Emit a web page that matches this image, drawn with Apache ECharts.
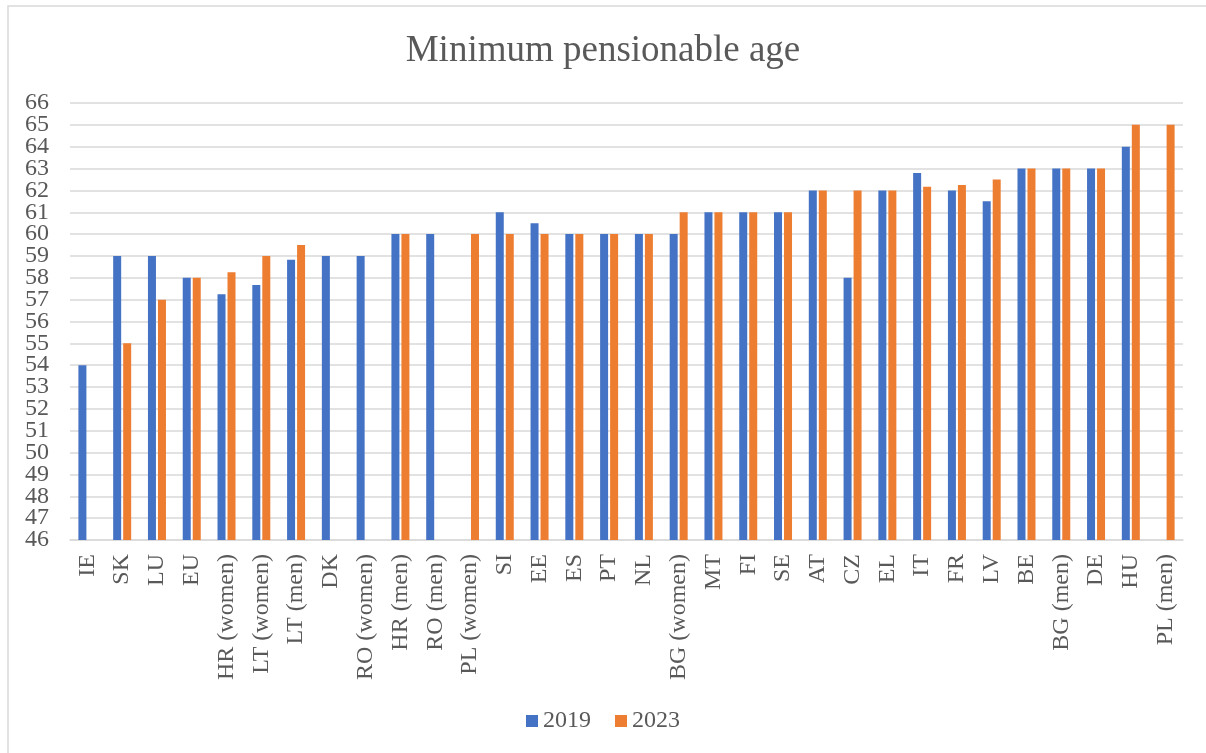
<!DOCTYPE html>
<html>
<head>
<meta charset="utf-8">
<script src="https://cdn.jsdelivr.net/npm/echarts@6/dist/echarts.min.js"></script>
<style>
html,body{margin:0;padding:0;background:#fff;}
#chart{width:1206px;height:753px;}
</style>
</head>
<body>
<div id="chart"></div>
<script>
var categories = ['IE','SK','LU','EU','HR (women)','LT (women)','LT (men)','DK','RO (women)','HR (men)','RO (men)','PL (women)','SI','EE','ES','PT','NL','BG (women)','MT','FI','SE','AT','CZ','EL','IT','FR','LV','BE','BG (men)','DE','HU','PL (men)'];
var values2019 = [54,59,59,58,57.25,57.67,58.83,59,59,60,60,null,61,60.5,60,60,60,60,61,61,61,62,58,62,62.8,62,61.5,63,63,63,64,null];
var values2023 = [null,55,57,58,58.25,59,59.5,null,null,60,null,60,60,60,60,60,60,61,61,61,61,62,62,62,62.17,62.25,62.5,63,63,63,65,65];
var yTickLabels = [46,47,48,49,50,51,52,53,54,55,56,57,58,59,60,61,62,63,64,65,66];
var yMin = yTickLabels[0], yMax = yTickLabels[yTickLabels.length-1];
var yEven = yTickLabels.filter(function(v,i){return i % 2 === 0;});
var yOdd = yTickLabels.filter(function(v,i){return i % 2 === 1;});

var chart = echarts.init(document.getElementById('chart'), null, {renderer:'canvas'});
var serif = '"Liberation Serif","DejaVu Serif",serif';
function labelOpts(vals){
  return {customValues:vals, showMinLabel:true, showMaxLabel:true, margin:21, hideOverlap:false,
    fontFamily:serif, fontSize:24, color:'#595959'};
}
chart.setOption({
  backgroundColor:'#fff',
  animation:false,
  graphic:[{type:'rect', shape:{x:8,y:6,width:1300,height:800}, style:{fill:'none',stroke:'#d9d9d9',lineWidth:1.5}, silent:true}],
  title:{text:'Minimum pensionable age', left:'center', top:28, textStyle:{fontFamily:serif, fontSize:37, fontWeight:'normal', color:'#595959'}},
  legend:{bottom:15, left:'center', itemWidth:12, itemHeight:12, itemGap:24, icon:'rect',
    textStyle:{fontFamily:serif, fontSize:24, color:'#595959'}, data:['2019','2023']},
  grid:{left:70, right:23, top:103, bottom:213, containLabel:false},
  xAxis:{type:'category', data:categories,
    axisLine:{lineStyle:{color:'#d9d9d9', width:1.5}},
    axisTick:{show:false},
    axisLabel:{rotate:90, interval:0, margin:14, fontFamily:serif, fontSize:24, color:'#595959'}},
  yAxis:[
    {type:'value', min:yMin, max:yMax, interval:1, position:'left',
      axisLine:{show:false}, axisTick:{show:false},
      splitLine:{lineStyle:{color:'#d9d9d9', width:1.5}},
      axisLabel:labelOpts(yEven)},
    {type:'value', min:yMin, max:yMax, interval:1, position:'left', offset:0,
      axisLine:{show:false}, axisTick:{show:false}, splitLine:{show:false},
      axisLabel:labelOpts(yOdd)}
  ],
  series:[
    {name:'2019', type:'bar', yAxisIndex:0, data:values2019, barWidth:8, barGap:'25%', itemStyle:{color:'#4472c4'}},
    {name:'2023', type:'bar', yAxisIndex:0, data:values2023, barWidth:8, barGap:'25%', itemStyle:{color:'#ed7d31'}}
  ]
});
</script>
</body>
</html>
